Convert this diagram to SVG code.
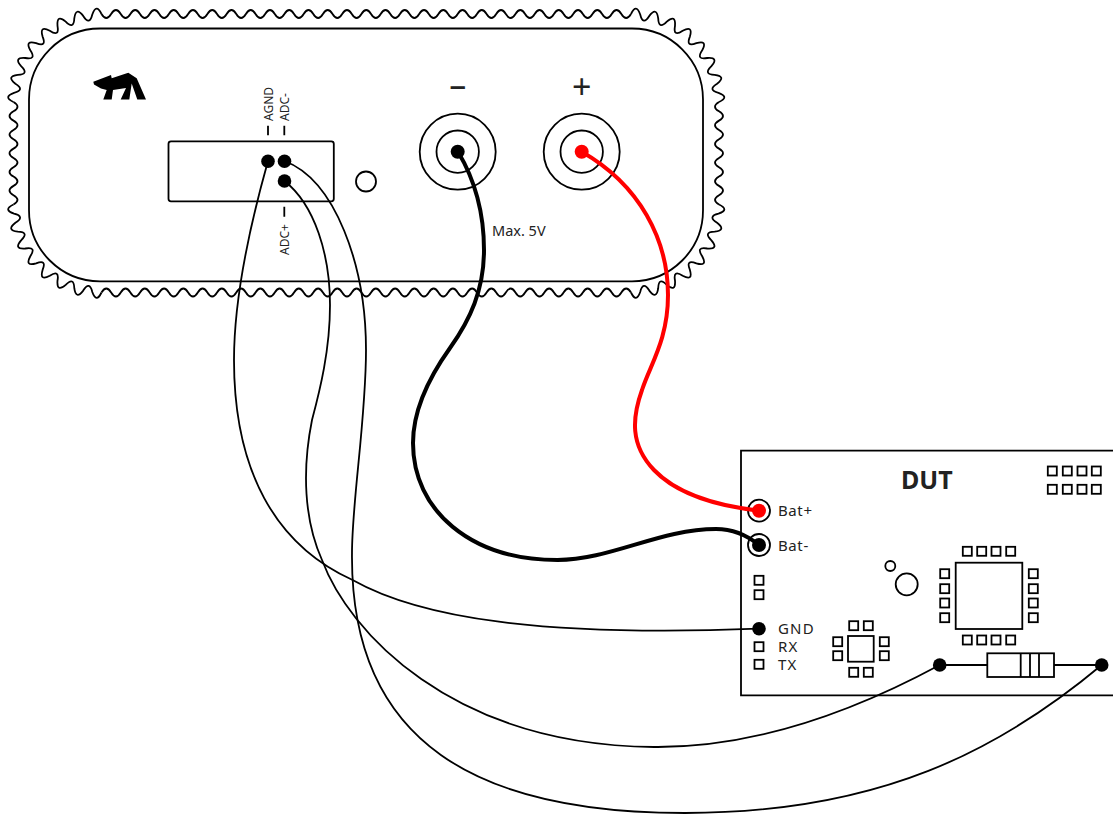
<svg xmlns="http://www.w3.org/2000/svg" width="1113" height="814" viewBox="0 0 1113 814">
<style>
.l{fill:none;stroke:#000;stroke-width:1.8}
.w{fill:none;stroke:#000;stroke-width:1.8;stroke-linecap:round}
.t{font-family:"Noto Sans","Open Sans",sans-serif;fill:#222}
.d{fill:#000}
</style>
<defs>
<rect id="p" x="-4.5" y="-4.5" width="9" height="9" class="l"/>
<path id="corner" class="l" d="M-88 0Q-98.9 -5.2 -87.5 -9.2Q-76.1 -12 -86.1 -18.3Q-95.6 -25.6 -83.7 -27.2Q-71.9 -27.6 -80.4 -35.8Q-88.2 -44.9 -76.2 -44Q-64.6 -41.9 -71.2 -51.7Q-76.9 -62.3 -65.4 -58.9Q-54.4 -54.4 -58.9 -65.4Q-62.3 -76.9 -51.7 -71.2Q-41.9 -64.6 -44 -76.2Q-44.9 -88.2 -35.8 -80.4Q-27.6 -71.9 -27.2 -83.7Q-25.6 -95.6 -18.3 -86.1Q-12 -76.1 -9.2 -87.5Q-5.2 -98.9 0 -88"/>
<path id="hw" class="l" d="M0 0q4.81 8 9.627 0
t9.627 0t9.627 0t9.627 0t9.627 0t9.627 0t9.627 0t9.627 0t9.627 0t9.627 0t9.627 0
t9.627 0t9.627 0t9.627 0t9.627 0t9.627 0t9.627 0t9.627 0t9.627 0t9.627 0t9.627 0
t9.627 0t9.627 0t9.627 0t9.627 0t9.627 0t9.627 0t9.627 0t9.627 0t9.627 0t9.627 0
t9.627 0t9.627 0t9.627 0t9.627 0t9.627 0t9.627 0t9.627 0t9.627 0t9.627 0t9.627 0
t9.627 0t9.627 0t9.627 0t9.627 0t9.627 0t9.627 0t9.627 0t9.627 0t9.627 0t9.627 0
t9.627 0t9.627 0t9.627 0t9.627 0"/>
<path id="vw" class="l" d="M0 0q8 4.66 0 9.32t0 9.32t0 9.32t0 9.32t0 9.32t0 9.32t0 9.32t0 9.32t0 9.32t0 9.32t0 9.32"/>
</defs>

<g id="device">
<use href="#corner" transform="translate(101.5 102)"/>
<use href="#corner" transform="translate(631 102) scale(-1 1)"/>
<use href="#corner" transform="translate(631 204.5) scale(-1 -1)"/>
<use href="#corner" transform="translate(101.5 204.5) scale(1 -1)"/>
<use href="#hw" transform="translate(101.5 14)"/>
<use href="#hw" transform="translate(101.5 292.5) scale(1 -1)"/>
<use href="#vw" transform="translate(13.5 102)"/>
<use href="#vw" transform="translate(719 102) scale(-1 1)"/>
<rect class="l" x="29" y="28.5" width="674" height="252.8" rx="71" ry="71"/>
<path class="d" d="M93.3 81.7L111 75L111.7 78.3L128.3 72.7L136.7 78.3L146 99.5H137.3L131.7 83.5L129.3 99.5H120.7L126 88L113 90L111.7 99.5H103.3L106.7 90L101 88.5L94 84.5Z"/>
</g>

<g id="adc-port">
<rect class="l" x="168.5" y="141.3" width="165.3" height="60" rx="2.5"/>
<circle class="d" cx="268" cy="161.3" r="6.8"/>
<circle class="d" cx="284.5" cy="161.3" r="6.8"/>
<circle class="d" cx="284.5" cy="181" r="6.8"/>
<path class="l" d="M268 125.7V135.3M284.3 125.7V135.3M284.3 206.7V216.7"/>
<text class="t" font-size="12" transform="translate(273 121) rotate(-90)">AGND</text>
<text class="t" font-size="12" transform="translate(288.7 121) rotate(-90)">ADC-</text>
<text class="t" font-size="12" transform="translate(288.7 255) rotate(-90)">ADC+</text>
</g>

<g id="led"><circle class="l" cx="366" cy="181.5" r="10"/></g>

<g id="jack-minus">
<circle class="l" cx="457.7" cy="151.7" r="38"/>
<circle class="l" cx="457.7" cy="151.7" r="21.2"/>
<circle class="d" cx="457.7" cy="151.7" r="7"/>
<text class="t" font-size="34" text-anchor="middle" x="457.7" y="97">–</text>
<text class="t" font-size="14.5" x="492" y="236">Max. 5V</text>
</g>

<g id="jack-plus">
<circle class="l" cx="581.7" cy="151.7" r="38"/>
<circle class="l" cx="581.7" cy="151.7" r="21.2"/>
<circle cx="581.7" cy="151.7" r="7" fill="#f00"/>
<text class="t" font-size="34" text-anchor="middle" x="581.7" y="99">+</text>
</g>

<g id="dut">
<path class="l" d="M1125 450.7H741V695.3H1125"/>
<text class="t" font-size="25" font-weight="700" x="901" y="489">DUT</text>
<circle class="l" cx="759" cy="510.7" r="11"/>
<circle cx="759" cy="510.7" r="7" fill="#f00"/>
<circle class="l" cx="759" cy="545" r="11"/>
<circle class="d" cx="759" cy="545" r="7"/>
<text class="t" font-size="15" letter-spacing="0.6" x="778" y="516">Bat+</text>
<text class="t" font-size="15" letter-spacing="0.6" x="778" y="551">Bat-</text>
<use href="#p" x="759" y="580.3"/><use href="#p" x="759" y="594.7"/>
<circle class="d" cx="759" cy="628.7" r="6.8"/>
<use href="#p" x="759" y="646.7"/><use href="#p" x="759" y="664.3"/>
<text class="t" font-size="15" letter-spacing="1.2" x="778" y="634">GND</text>
<text class="t" font-size="15" letter-spacing="1.2" x="778" y="652">RX</text>
<text class="t" font-size="15" letter-spacing="1.2" x="778" y="670">TX</text>
<use href="#p" x="1052.3" y="471"/><use href="#p" x="1067.3" y="471"/><use href="#p" x="1082" y="471"/><use href="#p" x="1096.3" y="471"/>
<use href="#p" x="1052.3" y="489.3"/><use href="#p" x="1067.3" y="489.3"/><use href="#p" x="1082" y="489.3"/><use href="#p" x="1096.3" y="489.3"/>
<rect class="l" x="955.7" y="562.7" width="66.6" height="66.3"/>
<use href="#p" x="967.3" y="551.3"/><use href="#p" x="981.7" y="551.3"/><use href="#p" x="996" y="551.3"/><use href="#p" x="1010.7" y="551.3"/>
<use href="#p" x="967.3" y="640"/><use href="#p" x="981.7" y="640"/><use href="#p" x="996" y="640"/><use href="#p" x="1010.7" y="640"/>
<use href="#p" x="944.7" y="573.7"/><use href="#p" x="944.7" y="588.7"/><use href="#p" x="944.7" y="603"/><use href="#p" x="944.7" y="617.7"/>
<use href="#p" x="1033.3" y="573.7"/><use href="#p" x="1033.3" y="588.7"/><use href="#p" x="1033.3" y="603"/><use href="#p" x="1033.3" y="617.7"/>
<rect class="l" x="848" y="636" width="25.7" height="25.7"/>
<use href="#p" x="853.7" y="625.7"/><use href="#p" x="868.3" y="625.7"/>
<use href="#p" x="853.7" y="672.3"/><use href="#p" x="868.3" y="672.3"/>
<use href="#p" x="837.7" y="641.7"/><use href="#p" x="837.7" y="655.7"/>
<use href="#p" x="884.3" y="641.7"/><use href="#p" x="884.3" y="655.7"/>
<circle class="l" cx="890.3" cy="566" r="5"/>
<circle class="l" cx="906.7" cy="584.3" r="11"/>
<circle class="d" cx="939.7" cy="665" r="6.8"/>
<circle class="d" cx="1101.7" cy="665" r="6.8"/>
<path class="l" d="M939.7 665H987.3M1054 665H1101.7"/>
<rect class="l" x="987.3" y="653.3" width="66.7" height="23.7"/>
<path class="l" d="M1020.7 653.3V677M1030 653.3V677M1039 653.3V677"/>
</g>

<g id="connectors">
<path class="w" d="M268 161C250 225 234 300 234 360C234 470 275 545 352.6 580C420 618 540 637 759 628.7"/>
<path class="w" d="M284.5 181C315 205 330 255 330 305C330 350 320 390 312 420C302 470 304 520 322 560C348 630 450 745 654 747C760 748 860 708 939.7 665"/>
<path class="w" d="M284.5 161C335 180 366 265 366 350C366 420 352 500 352 553C350 745 480 813 685 813C880 813 1000 750 1101.7 665"/>
<path class="w" style="stroke-width:4" d="M458 151.7C475 180 484 215 484 250C484 290 470 320 450 348C420 390 413 420 413 443C413 510 470 560 557.5 560C610 560 660 529 716 529C735 529 748 536 759 545"/>
<path class="w" style="stroke:#f00;stroke-width:4" d="M581.7 151.7C640 185 668 240 668 295C668 340 650 365 642 390C632 418 630 445 654 470C675 492 710 505 759 510.7"/>
</g>
</svg>
